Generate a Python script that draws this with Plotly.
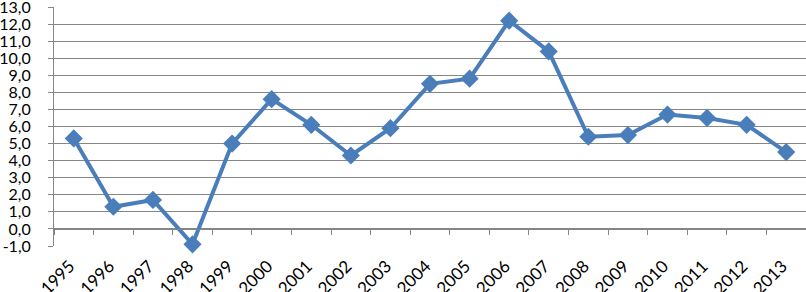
import plotly.graph_objects as go

years = ["1995", "1996", "1997", "1998", "1999", "2000", "2001", "2002", "2003", "2004",
         "2005", "2006", "2007", "2008", "2009", "2010", "2011", "2012", "2013"]
values = [5.3, 1.3, 1.7, -0.9, 5.0, 7.6, 6.1, 4.3, 5.9, 8.5,
          8.8, 12.2, 10.4, 5.4, 5.5, 6.7, 6.5, 6.1, 4.5]
y_ticks = list(range(-1, 14))
y_ticktext = [f"{v},0" for v in y_ticks]

BLUE = "#4a7ebb"
GRID = "#868686"
FONT = dict(family="Lato", size=16, color="#000000")
XFONT = dict(family="Lato", size=17, color="#000000")

fig = go.Figure()
fig.add_trace(go.Scatter(
    x=years, y=values, mode="lines+markers",
    line=dict(color=BLUE, width=4),
    marker=dict(symbol="diamond", size=14, color=BLUE),
    cliponaxis=False, showlegend=False, hoverinfo="skip",
))
# invisible copy to carry the category axis drawn at y=0
fig.add_trace(go.Scatter(
    x=years, y=values, xaxis="x2", mode="markers",
    marker=dict(opacity=0), showlegend=False, hoverinfo="skip",
))

fig.update_layout(
    width=806, height=292,
    margin=dict(l=54, r=0, t=7, b=46),
    paper_bgcolor="white", plot_bgcolor="white",
    font=FONT,
    xaxis=dict(
        type="category", categoryarray=years, range=[-0.5, 18.5],
        showgrid=False, showline=False, ticks="", zeroline=False,
        tickangle=-45, tickfont=XFONT, ticklabelstandoff=6, ticklabelshift=-4,
        automargin=False, ticklabeloverflow="allow",
    ),
    xaxis2=dict(
        type="category", categoryarray=years, range=[-0.5, 18.5],
        overlaying="x", anchor="free", position=1 / 14,
        showgrid=False, showline=True, linecolor=GRID, linewidth=1,
        ticks="outside", ticklen=5, tickcolor=GRID, tickson="boundaries",
        showticklabels=False, zeroline=False, automargin=False,
    ),
    yaxis=dict(
        range=[-1, 13], tickvals=y_ticks, ticktext=y_ticktext,
        showgrid=True, gridcolor=GRID, gridwidth=1,
        showline=True, linecolor=GRID, linewidth=1,
        ticks="outside", ticklen=5, tickcolor=GRID,
        zeroline=False, tickfont=FONT, ticklabelstandoff=14, automargin=False,
        ticklabeloverflow="allow",
    ),
)

# remove the browser's default 8px body margin so the figure fills the window
fig.write_html(
    "out.html",
    config={"displayModeBar": False},
    post_script="document.body.style.margin='0';document.body.style.overflow='hidden';",
)
